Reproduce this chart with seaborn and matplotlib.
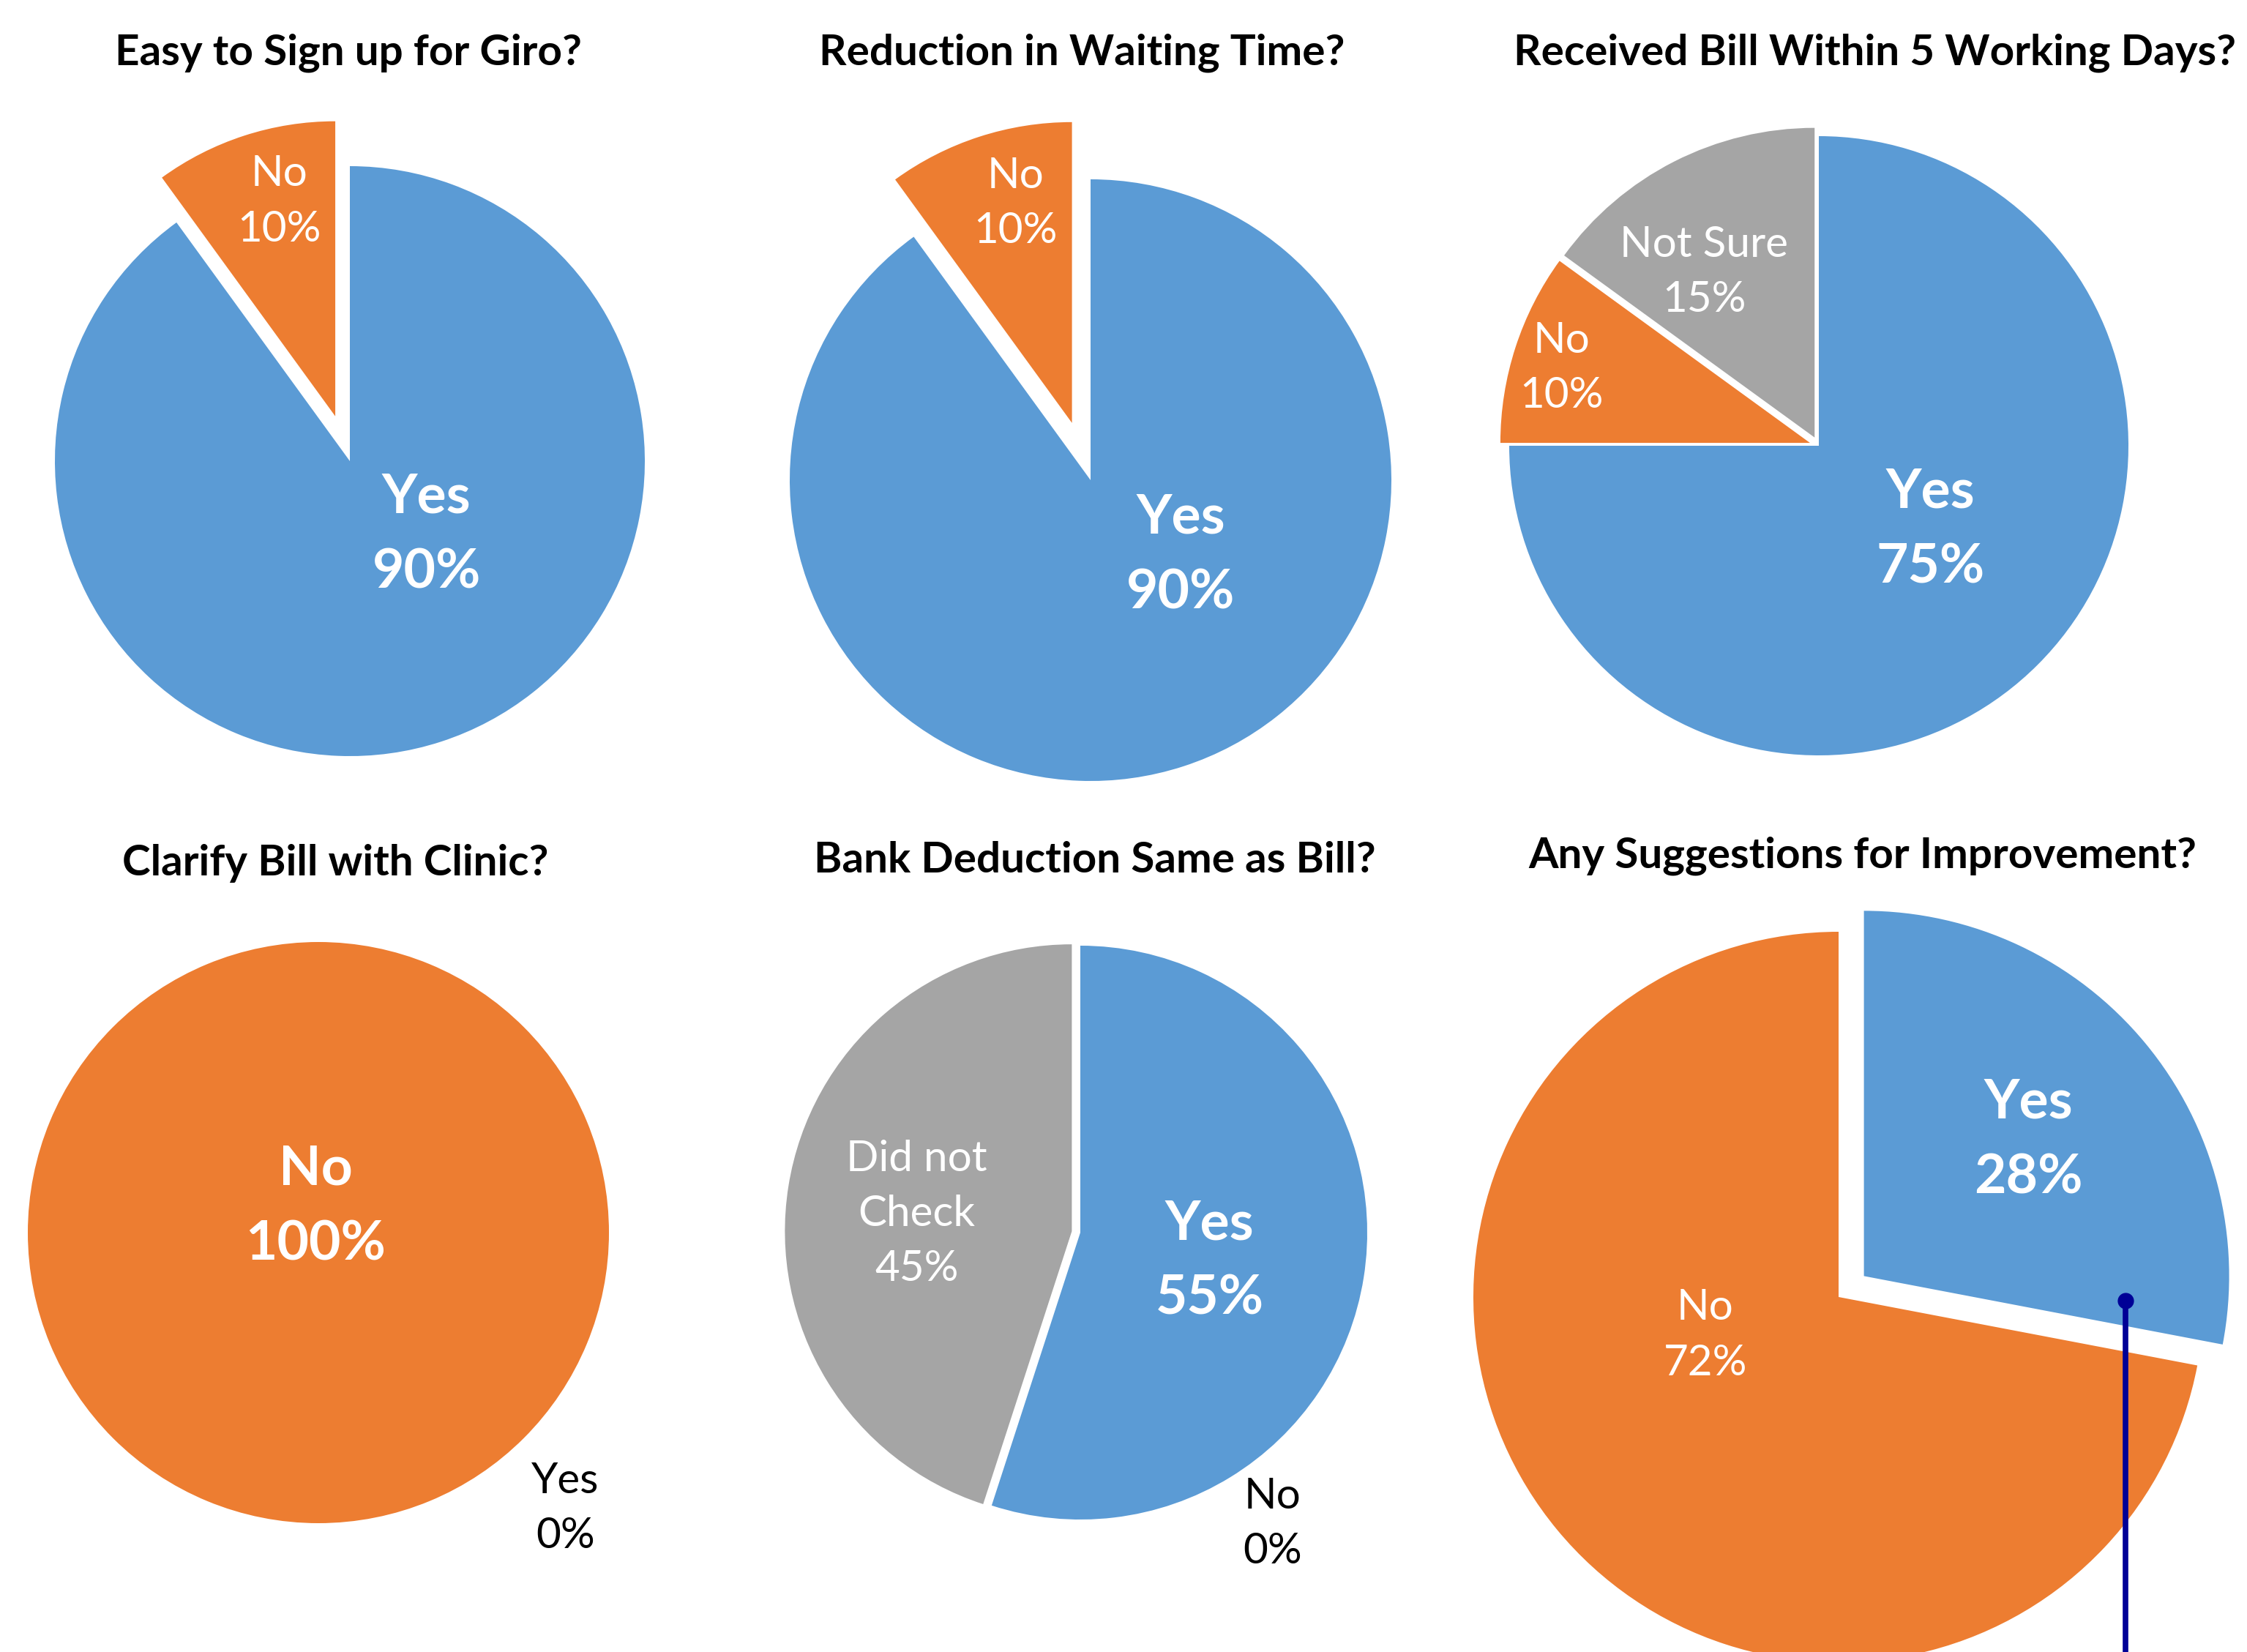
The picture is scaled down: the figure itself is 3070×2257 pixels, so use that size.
import matplotlib
matplotlib.use('Agg')
import matplotlib.pyplot as plt
import seaborn as sns

# survey answers, one pie per question
titles = ['Easy to Sign up for Giro?',
          'Reduction in Waiting Time?',
          'Received Bill Within 5 Working Days?',
          'Clarify Bill with Clinic?',
          'Bank Deduction Same as Bill?',
          'Any Suggestions for Improvement?']

labels_giro = ['Yes', 'No']
values_giro = [90, 10]
labels_wait = ['Yes', 'No']
values_wait = [90, 10]
labels_bill = ['Yes', 'No', 'Not Sure']
values_bill = [75, 10, 15]
labels_clinic = ['Yes', 'No']
values_clinic = [0, 100]
labels_bank = ['Yes', 'No', 'Did not\nCheck']
values_bank = [55, 0, 45]
labels_sugg = ['Yes', 'No']
values_sugg = [28, 72]

all_labels = [labels_giro, labels_wait, labels_bill, labels_clinic, labels_bank, labels_sugg]
all_values = [values_giro, values_wait, values_bill, values_clinic, values_bank, values_sugg]

# layout (pixels of the 3070x2257 canvas, y measured from top)
W, H = 3070, 2257
centers = [(478, 630), (1490, 656), (2485, 609), (435, 1684), (1476, 1684), (2512, 1772)]
radii = [403, 411, 423, 397, 392, 499]
title_pos = [(476, 72), (1478, 72), (2562, 72), (458, 1179), (1496, 1175), (2545, 1169)]
# explode as fraction of the radius
explodes = [[0, 0.16], [0, 0.2], [0, 0.03, 0.03], [0, 0], [0, 0, 0.03], [0.09, 0]]
bold_idx = [0, 0, 0, 1, 0, 0]
# label offsets in radius units (x right, y up)
label_offsets = [[(0.26, -0.25), (-0.24, 0.88)],
                 [(0.30, -0.25), (-0.25, 0.92)],
                 [(0.36, -0.27), (-0.83, 0.25), (-0.37, 0.56)],
                 [(0.85, -0.95), (-0.01, 0.09)],
                 [(0.45, -0.10), (0.67, -1.015), (-0.57, 0.065)],
                 [(0.52, 0.43), (-0.365, -0.105)]]

sns.set_theme(style='white')
plt.rcParams['font.family'] = ['Lato', 'DejaVu Sans']

pal = sns.color_palette(['#5B9BD5', '#ED7D31', '#A5A5A5'])
color_of = {'Yes': pal[0], 'No': pal[1], 'Not Sure': pal[2], 'Did not\nCheck': pal[2]}

fig = plt.figure(figsize=(W / 100, H / 100), dpi=100)
ax = fig.add_axes([0, 0, 1, 1])

for i in range(6):
    cx, cy = centers[i]
    r = radii[i]
    labs = all_labels[i]
    vals = all_values[i]
    ax.pie(vals, colors=[color_of[l] for l in labs], startangle=90, counterclock=False,
           explode=[e * r for e in explodes[i]], center=(cx, H - cy), radius=r,
           wedgeprops=dict(linewidth=0))
    for j, (lab, val, (ox, oy)) in enumerate(zip(labs, vals, label_offsets[i])):
        big = j == bold_idx[i]
        ax.text(cx + ox * r, H - cy + oy * r, f'{lab}\n{val}%',
                ha='center', va='center',
                linespacing=1.6 if big else 1.52,
                fontsize=54 if big else 42,
                fontweight='bold' if big else 'normal',
                color='white' if val > 0 else 'black')
    tx, ty = title_pos[i]
    ax.text(tx, H - ty, titles[i], ha='center', va='center',
            fontsize=42, fontweight='bold', color='black')

# leader line left on the last pie
cx, cy = centers[5]
r = radii[5]
lx, ly = cx + 0.785 * r, H - cy - 0.01 * r
ax.plot([lx, lx], [ly, -20], color='#000096', lw=5.5, solid_capstyle='butt')
ax.plot([lx], [ly], 'o', color='#000096', ms=15)

ax.set_xlim(0, W)
ax.set_ylim(0, H)
ax.set_aspect('equal')
ax.axis('off')

fig.savefig('out.png', dpi=100)
